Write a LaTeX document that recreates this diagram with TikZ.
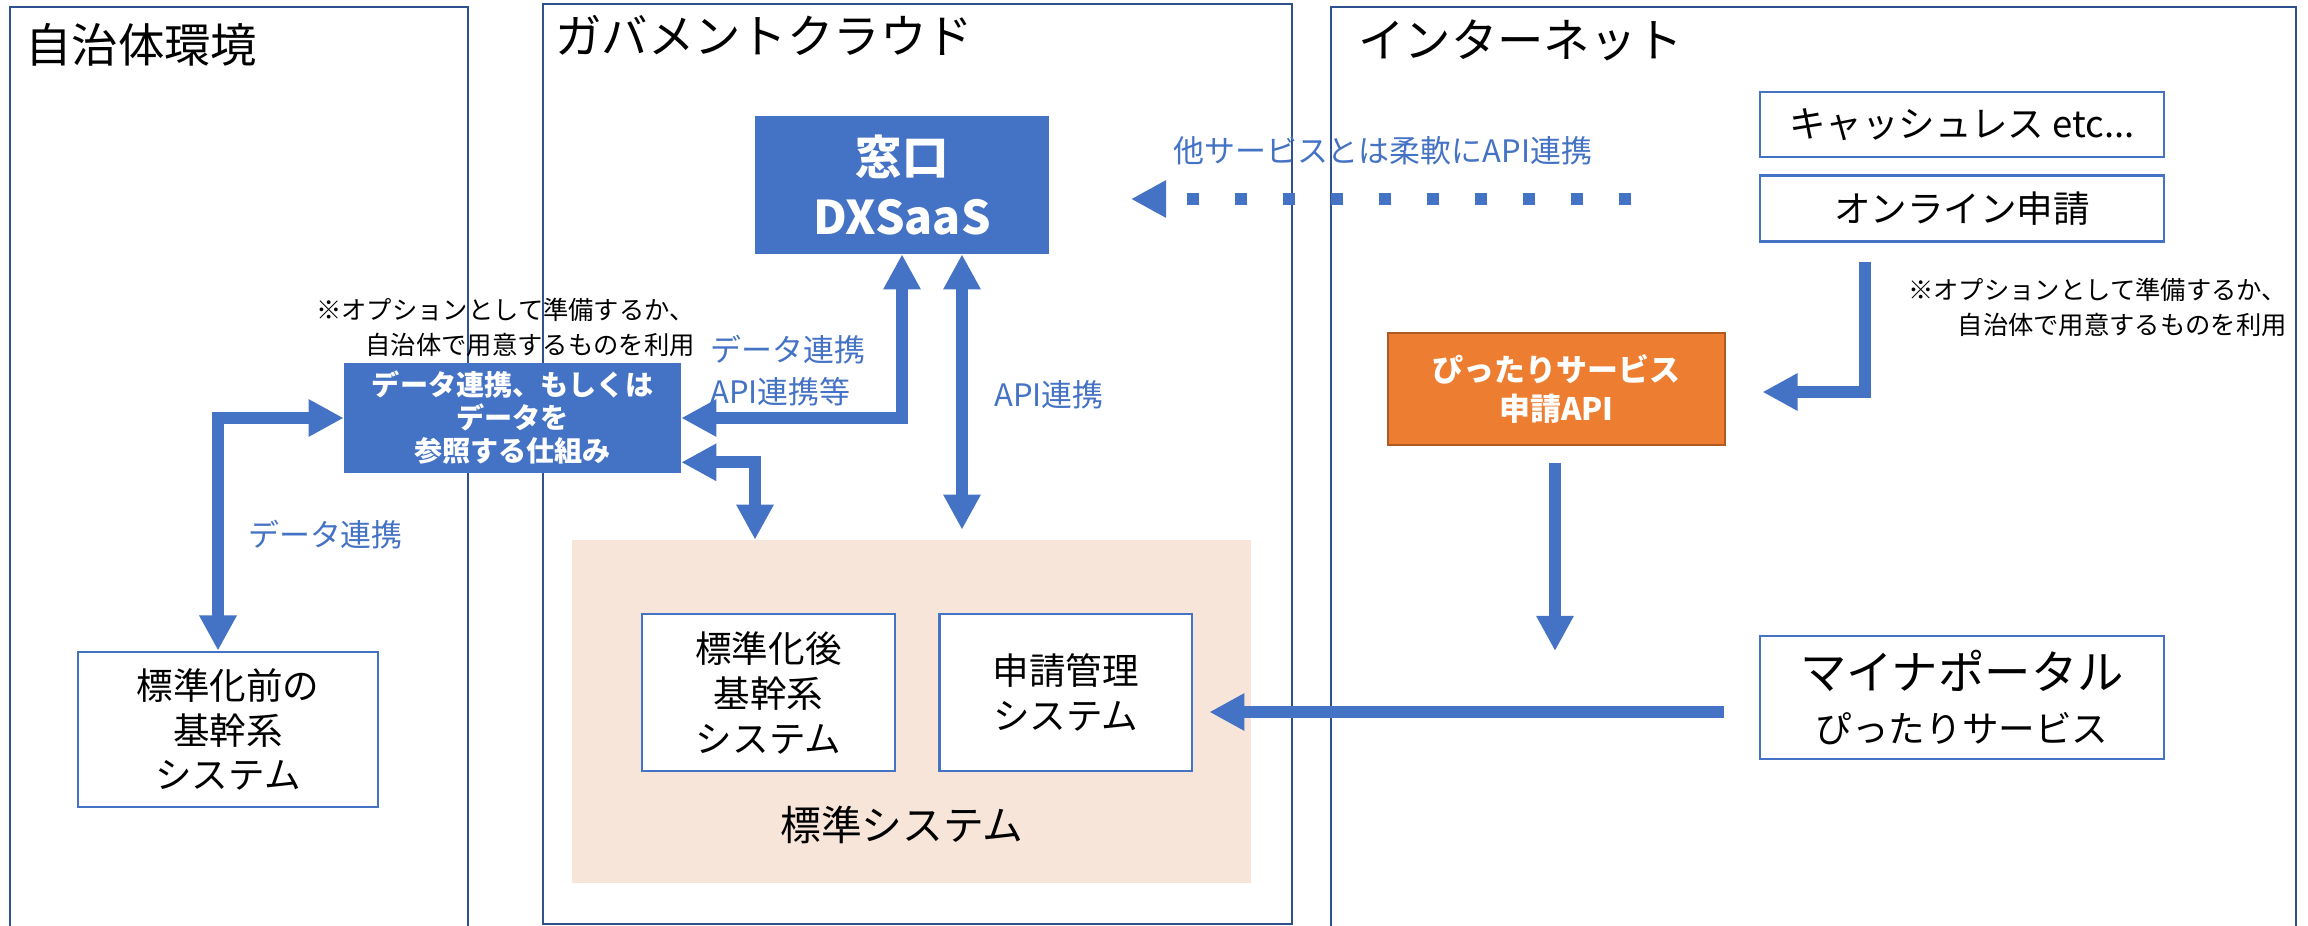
\documentclass[tikz,border=0pt]{standalone}
\usepackage{fontspec}
\setmainfont{Noto Sans CJK JP}
\usetikzlibrary{arrows.meta, positioning, calc}
\tikzset{>={Triangle[width=25pt,length=25pt]}}
\definecolor{accent}{HTML}{4472C4}
\definecolor{panelline}{HTML}{2F528F}
\definecolor{pittari}{HTML}{ED7D31}
\definecolor{pittariline}{HTML}{AE5A21}
\definecolor{stdfill}{HTML}{F8E5DA}
\newcommand{\pxfont}[2]{\fontsize{#1}{#2}\selectfont}
\def \flowwidth {8.5pt}
\def \wideboxwidth {10.1cm}

\tikzset{
  panel/.style = {draw = panelline, line width = 1.8pt},
  title/.style = {anchor = west, inner sep = 0pt, font = \pxfont{33}{40}},
  whitebox/.style = {draw = accent, line width = 2pt, fill = white, inner sep = 0pt, align = center},
  bluebox/.style = {fill = accent, text = white, inner sep = 0pt, align = center},
  flow/.style = {draw = accent, line width = \flowwidth},
  bluetext/.style = {text = accent, inner sep = 0pt, font = \pxfont{22}{30}},
  notetext/.style = {anchor = east, inner sep = 0pt, align = right, font = \pxfont{18}{25}}
}

\begin{document}
\begin{tikzpicture}[x=0.025cm, y=-0.025cm, font=\pxfont{26}{32}]
\useasboundingbox (0,0) rectangle (2308,926);

\draw[panel] (10,7) rectangle (468,950);
\draw[panel] (543,4) rectangle (1292,924);
\draw[panel] (1331,7) rectangle (2296,950);

\node (title_local) [title] at (25,45) {自治体環境};
\node (title_gov) [title] at (555,35) {ガバメントクラウド};
\node (title_inet) [title] at (1358,40) {インターネット};

\node (dx_saas) [bluebox, minimum width = 7.35cm, minimum height = 3.45cm, font = \bfseries\pxfont{33}{42}] at (902,185) {窓口\\DXSaaS};

\coordinate (dot_start) at (1631,199);
\coordinate (dot_tip) at (1131,199);
\draw[flow, ->, line width = 9.2pt, dash pattern = on 8.5pt off 25.6pt] (dot_start) -- (dot_tip);

\node (other_label) [bluetext, anchor = west] at (1173,151) {他サービスとは柔軟にAPI連携};

\node (cashless) [whitebox, minimum width = \wideboxwidth, minimum height = 1.625cm] at (1962,124.5) {キャッシュレス etc...};

\node (online_app) [whitebox, minimum width = \wideboxwidth, minimum height = 1.65cm, below = 0.4cm of cashless] {オンライン申請};

\node (pittari_api) [bluebox, fill = pittari, draw = pittariline, line width = 2pt, minimum width = 8.425cm, minimum height = 2.8cm, font = \bfseries\pxfont{22}{27.7}] at (1556.5,389) {ぴったりサービス\\申請API};

\coordinate (opt_start) at (1865,262);
\draw[flow, ->] (opt_start) |- ($(pittari_api.east)+(36,3)$);

\node (note_inet) [notetext] at (2287,307.5) {※オプションとして準備するか、\\自治体で用意するものを利用};

\node (myna_portal) [whitebox, minimum width = \wideboxwidth, minimum height = 3.075cm, font = \pxfont{26}{37}] at (1962,697.5) {{\pxfont{33}{40}マイナポータル}\\ぴったりサービス};

\coordinate (myna_tip) at (1555,651);
\draw[flow, ->] ($(pittari_api.south)+(-1.5,17)$) -- (myna_tip);

% standard system area with its two systems
\node (std_area) [fill = stdfill, inner sep = 0pt, minimum width = 16.975cm, minimum height = 8.575cm] at (911.5,711.5) {};
\node (std_label) [font = \pxfont{29}{35}] at (902,825) {標準システム};

\node (core_sys) [whitebox, minimum width = 6.325cm, minimum height = 3.925cm] at (768.5,692.5) {標準化後\\基幹系\\システム};
\node (apply_sys) [whitebox, minimum width = 6.3cm, minimum height = 3.925cm, right = 1.05cm of core_sys] {申請管理\\システム};

\draw[flow, ->] ($(myna_portal.west)+(-35,14.5)$) -- ($(apply_sys.east)+(16,19.5)$);

\node (legacy_sys) [whitebox, minimum width = 7.5cm, minimum height = 3.875cm, font = \pxfont{26}{31.7}] at (228,729.5) {標準化前の\\基幹系\\システム};

\node (data_link) [bluebox, minimum width = 8.425cm, minimum height = 2.75cm, font = \bfseries\pxfont{20}{23.5}] at (512.5,418) {データ連携、もしくは\\データを\\参照する仕組み};

\node (note_local) [notetext] at (695,327.5) {※オプションとして準備するか、\\自治体で用意するものを利用};

\draw[flow, <->] ($(legacy_sys.north)+(-10,0)$) |- (data_link.west);
\node (legacy_label) [bluetext] at (325.5,535) {データ連携};

\draw[flow, <->] (dx_saas.south) |- (data_link.east);
\node (dx_link_label) [bluetext, anchor = west, align = left] at (710,371) {データ連携\\API連携等};

\draw[flow, <->] ($(dx_saas.south)+(60,0)$) -- ($(std_area.north)+(50.5,-10)$);
\node (api_label) [bluetext, anchor = west] at (994,395) {API連携};

\draw[flow, <->] ($(data_link.south east)+(0,-11)$) -| ($(std_area.north)+(-156.5,0)$);

\end{tikzpicture}
\end{document}
